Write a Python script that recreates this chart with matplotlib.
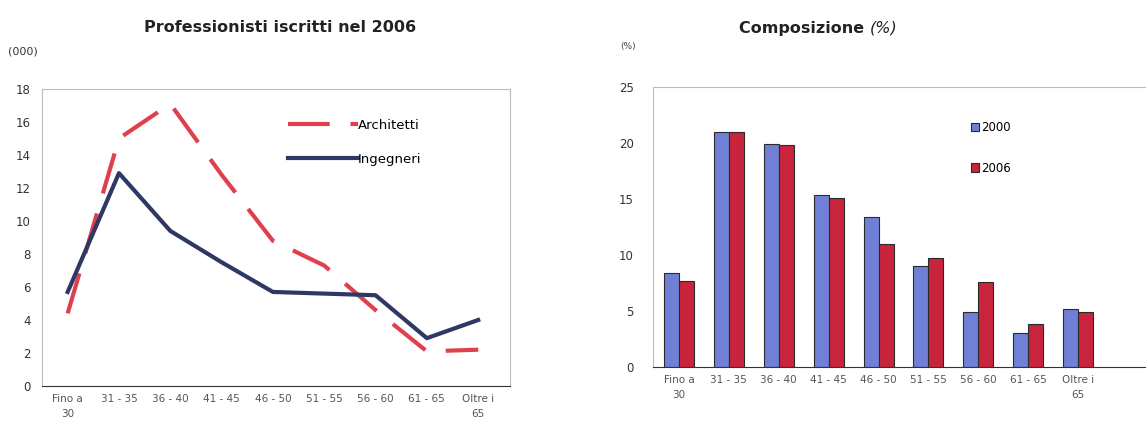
import numpy as np
import matplotlib.pyplot as plt

# categories (age bands)
fasce = ["Fino a\n30", "31 - 35", "36 - 40", "41 - 45", "46 - 50",
         "51 - 55", "56 - 60", "61 - 65", "Oltre i\n65"]

# left chart: registered professionals in 2006 (thousands)
architetti = [4.4, 15.0, 17.1, 12.8, 8.8, 7.3, 4.6, 2.1, 2.2]
ingegneri = [5.7, 12.9, 9.4, 7.5, 5.7, 5.6, 5.5, 2.9, 4.0]

# right chart: composition (%)
comp_2000 = [8.4, 21.0, 19.9, 15.4, 13.4, 9.0, 4.9, 3.0, 5.2]
comp_2006 = [7.7, 21.0, 19.8, 15.1, 11.0, 9.7, 7.6, 3.8, 4.9]

W, H = 1146, 426
fig = plt.figure(figsize=(W / 100, H / 100), dpi=100)
fig.patch.set_facecolor("white")


def px_axes(left, top, right, bottom):
    return fig.add_axes([left / W, 1 - bottom / H, (right - left) / W, (bottom - top) / H])


tick_col = "#555555"
x = np.arange(len(fasce))

# ---------- left: line chart ----------
ax1 = px_axes(42, 89, 510, 386)
ax1.plot(x, architetti, color="#e0404e", lw=3, dashes=(10, 5), label="Architetti")
ax1.plot(x, ingegneri, color="#2f3864", lw=3, label="Ingegneri")
ax1.set_xlim(-0.5, 8.62)
ax1.set_ylim(0, 18)
ax1.set_yticks(range(0, 19, 2))
ax1.set_xticks(x)
ax1.set_xticklabels(fasce, fontsize=7.5, color=tick_col, linespacing=1.6)
ax1.tick_params(axis="y", labelsize=8.5, colors="#333333", length=0, pad=8)
ax1.tick_params(axis="x", length=0, pad=6)
for s in ["top", "right", "left"]:
    ax1.spines[s].set_color("#bbbbbb")
ax1.spines["bottom"].set_color("#333333")
ax1.legend(loc="upper left", bbox_to_anchor=(0.5, 0.94), frameon=False,
           fontsize=9.5, handlelength=5.3, handletextpad=0.0, labelspacing=1.6)
fig.text(280 / W, 1 - 28 / H, "Professionisti iscritti nel 2006", ha="center", va="center",
         fontsize=11.5, fontweight="bold", color="#222222")
fig.text(8 / W, 1 - 52 / H, "(000)", ha="left", va="center", fontsize=8, color="#333333")

# ---------- right: bar chart ----------
ax2 = px_axes(653, 87, 1165, 367)
bw = 0.3
ax2.bar(x - bw / 2, comp_2000, width=bw, color="#7080d6", edgecolor="#2a2a2a", lw=0.8, label="2000")
ax2.bar(x + bw / 2, comp_2006, width=bw, color="#c8243c", edgecolor="#2a2a2a", lw=0.8, label="2006")
ax2.set_xlim(-0.52, 9.74)
ax2.set_ylim(0, 25)
ax2.set_yticks(range(0, 26, 5))
ax2.set_xticks(x)
ax2.set_xticklabels(fasce, fontsize=7.5, color=tick_col, linespacing=1.6)
ax2.tick_params(axis="y", labelsize=8.5, colors="#333333", length=0, pad=14)
ax2.tick_params(axis="x", length=0, pad=6)
for s in ["top", "right", "left"]:
    ax2.spines[s].set_color("#bbbbbb")
ax2.spines["bottom"].set_color("#333333")
ax2.legend(loc="upper left", bbox_to_anchor=(0.6, 0.915), frameon=False, fontsize=8.5,
           handlelength=0.7, handleheight=0.7, handletextpad=0.2, labelspacing=2.3)
fig.text(870 / W, 1 - 28 / H, "Composizione ", ha="right", va="center",
         fontsize=11.5, fontweight="bold", color="#222222")
fig.text(870 / W, 1 - 28 / H, "(%)", ha="left", va="center",
         fontsize=11.5, fontstyle="italic", color="#222222")
fig.text(620 / W, 1 - 47 / H, "(%)", ha="left", va="center", fontsize=6.5, color="#444444")

fig.savefig("out.png", dpi=100)
